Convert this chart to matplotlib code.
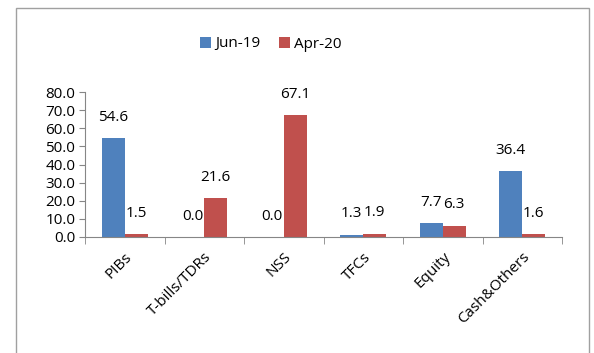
import matplotlib.pyplot as plt
import numpy as np
from matplotlib.patches import Rectangle

categories = ['PIBs', 'T-bills/TDRs', 'NSS', 'TFCs', 'Equity', 'Cash&Others']
jun19 = [54.6, 0.0, 0.0, 1.3, 7.7, 36.4]
apr20 = [1.5, 21.6, 67.1, 1.9, 6.3, 1.6]
yticks = np.arange(0, 81, 10)

plt.rcParams['font.family'] = ['Open Sans', 'DejaVu Sans']
blue = '#4F81BD'
red = '#C0504D'
grey = '#868686'
fs = 11

fig = plt.figure(figsize=(5.94, 3.53), dpi=100)
fig.patches.append(Rectangle((16 / 594, -0.05), 573 / 594, 1.05 - 8 / 353,
                             transform=fig.transFigure, fill=False,
                             edgecolor='#A0A0A0', lw=1.0))
ax = fig.add_axes([85 / 594, 1 - 237 / 353, 477 / 594, 145 / 353])

x = np.arange(len(categories))
w = 0.29
b1 = ax.bar(x - w / 2, jun19, w, color=blue, label='Jun-19')
b2 = ax.bar(x + w / 2, apr20, w, color=red, label='Apr-20')

for bars, vals in ((b1, jun19), (b2, apr20)):
    for r, v in zip(bars, vals):
        ax.annotate(f'{v:.1f}', (r.get_x() + r.get_width() / 2, v),
                    xytext=(0, 15), textcoords='offset points',
                    ha='center', va='center', fontsize=fs)

ax.set_xlim(-0.5, len(categories) - 0.5)
ax.set_ylim(0, 80)
ax.set_yticks(yticks)
ax.set_yticklabels([f'{t:.1f}' for t in yticks], fontsize=fs)
ax.set_xticks(x)
ax.set_xticklabels(categories, rotation=45, ha='right', va='top',
                   rotation_mode='anchor', fontsize=fs)
ax.tick_params(axis='x', length=0, pad=9)
ax.set_xticks(np.arange(-0.5, len(categories)), minor=True)
ax.tick_params(axis='x', which='minor', length=5, color=grey)
ax.tick_params(axis='y', length=4, color=grey, pad=3)

for s in ('top', 'right'):
    ax.spines[s].set_visible(False)
for s in ('left', 'bottom'):
    ax.spines[s].set_color(grey)

fig.legend(loc='center', bbox_to_anchor=(271 / 594, 1 - 44 / 353), ncol=2,
           frameon=False, fontsize=fs, handlelength=0.7, handleheight=0.7,
           handletextpad=0.3, columnspacing=1.2)

fig.savefig('out.png', dpi=100)
